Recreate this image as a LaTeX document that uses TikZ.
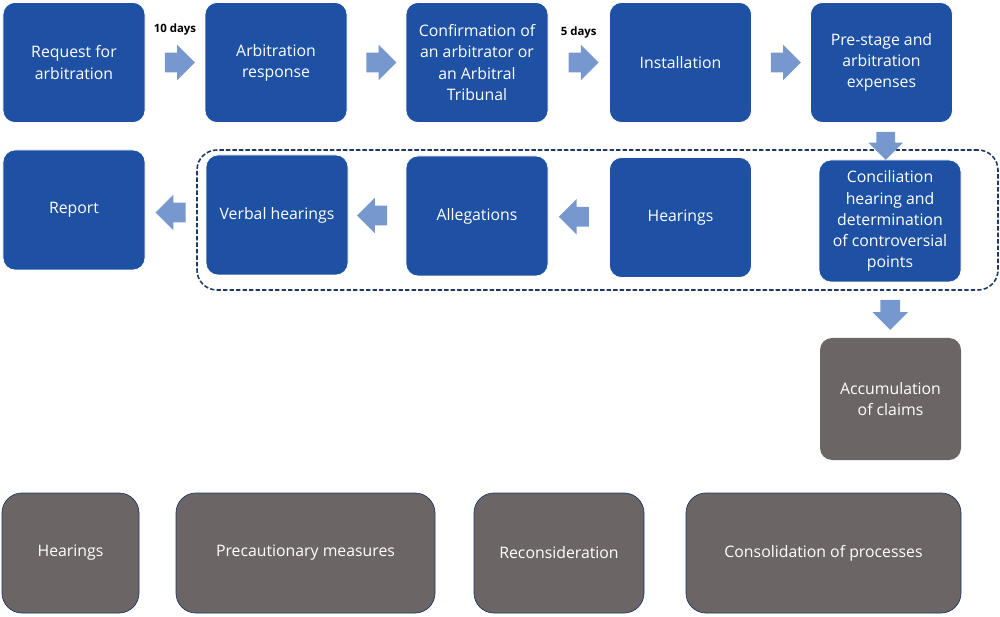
\documentclass[tikz,border=0pt]{standalone}
\usepackage{fontspec}
\setmainfont{Open Sans}
\usepackage{xcolor}
\usetikzlibrary{positioning,calc,shapes.arrows}

\definecolor{stepblue}{HTML}{1E51A4}
\definecolor{arrowblue}{HTML}{7698CE}
\definecolor{stepgray}{HTML}{6B6665}
\definecolor{navy}{HTML}{1F3864}

\begin{document}
\begin{tikzpicture}[
  bluebox/.style={rectangle, rounded corners=0.24cm, fill=stepblue, draw=white, text=white,
    minimum width=2.84cm, minimum height=2.4cm, align=center, inner sep=2pt,
    font=\fontsize{9}{12}\selectfont},
  graybox/.style={bluebox, fill=stepgray},
  sidebox/.style={graybox, draw=navy, rounded corners=0.4cm, minimum height=2.4cm},
  flowarrow/.style={single arrow, fill=arrowblue, draw=none, inner sep=0.19cm,
    minimum height=0.6cm, single arrow head extend=0.16cm},
  daylabel/.style={font=\fontsize{6.5}{8}\selectfont\bfseries, inner sep=1pt}
]
  \useasboundingbox (0,0) rectangle (20,12.32);

  % Top row
  \node[bluebox] (req) at (1.48, 11.07) {Request for\\arbitration};
  \node[bluebox] (resp) at (5.52, 11.07) {Arbitration\\response};
  \node[bluebox] (conf) at (9.54, 11.07) {Confirmation of\\an arbitrator or\\an Arbitral\\Tribunal};
  \node[bluebox] (inst) at (13.61, 11.07) {Installation};
  \node[bluebox] (pre) at (17.63, 11.07) {Pre-stage and\\arbitration\\expenses};

  \node[flowarrow] (a1) at ($(req.east)!0.5!(resp.west)$) {};
  \node[flowarrow] (a2) at ($(resp.east)!0.5!(conf.west)$) {};
  \node[flowarrow] (a3) at ($(conf.east)!0.5!(inst.west)$) {};
  \node[flowarrow] (a4) at ($(inst.east)!0.5!(pre.west)$) {};
  \node[daylabel, above=0.3cm of a1] (d1) {10 days};
  \node[daylabel, above=0.24cm of a3] (d3) {5 days};

  % Dashed group round the hearing stage
  \node[draw=navy, line width=0.9pt, dash pattern=on 2.5pt off 1.2pt, rounded corners=0.4cm,
    minimum width=16.02cm, minimum height=2.8cm] (stage) at (11.95, 7.92) {};

  % Second row
  \node[bluebox] (report) at (1.48, 8.12) {Report};
  \node[bluebox] (verbal) at (5.54, 8.02) {Verbal hearings};
  \node[bluebox] (alleg) at (9.54, 8.0) {Allegations};
  \node[bluebox] (hear) at (13.61, 7.97) {Hearings};
  \node[bluebox, minimum height=2.44cm] (concil) at (17.8, 7.9) {Conciliation\\hearing and\\determination\\of controversial\\points};

  \node[flowarrow, minimum height=0.4cm, inner sep=0.18cm, rotate=-90] (a5) at ($(pre.south)!0.5!(concil.north)$) {};
  \node[flowarrow, rotate=180] (a6) at ($(verbal.west)!0.5!(report.east)$) {};
  \node[flowarrow, rotate=180] (a7) at ($(alleg.west)!0.5!(verbal.east)$) {};
  \node[flowarrow, rotate=180] (a8) at ($(hear.west)!0.5!(alleg.east)$) {};

  % Accumulation
  \node[graybox, draw=none, minimum width=2.82cm, minimum height=2.44cm] (accum) at (17.81, 4.34) {Accumulation\\of claims};
  \node[flowarrow, rotate=-90] (a9) at ($(concil.south)!0.5!(accum.north)$) {};

  % Bottom row
  \node[sidebox, minimum width=2.74cm] (hear2) at (1.41, 1.26) {Hearings};
  \node[sidebox, minimum width=5.18cm] (prec) at (6.11, 1.26) {Precautionary measures};
  \node[sidebox, minimum width=3.4cm] (recon) at (11.18, 1.26) {Reconsideration};
  \node[sidebox, minimum width=5.5cm] (consol) at (16.47, 1.26) {Consolidation of processes};
\end{tikzpicture}
\end{document}
